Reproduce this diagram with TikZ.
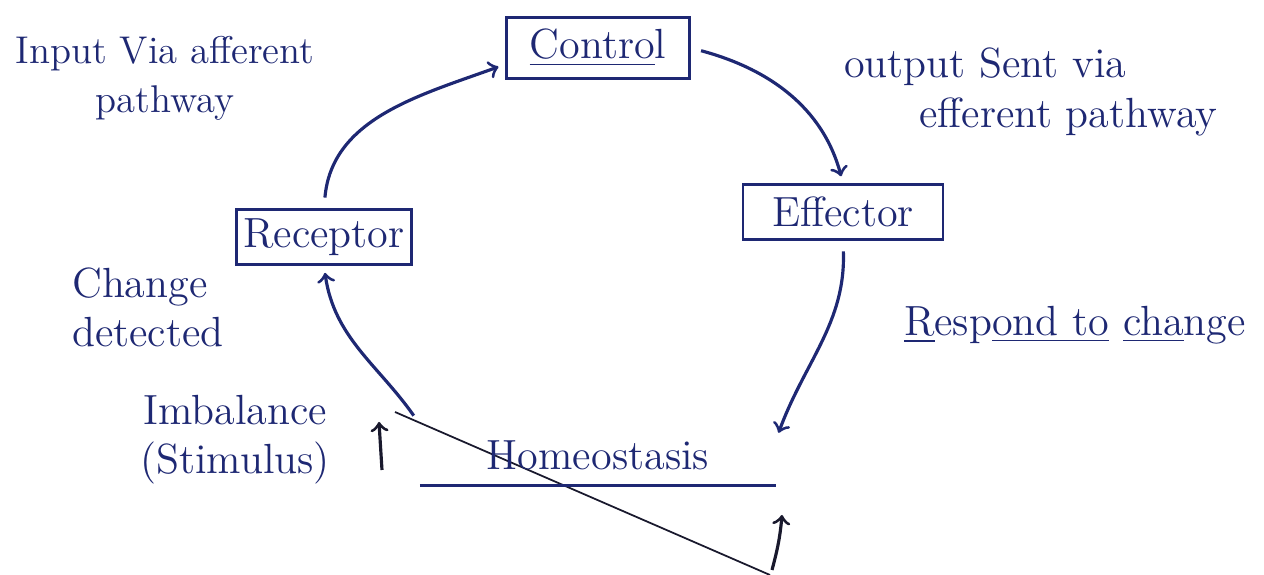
\documentclass[tikz,border=0pt]{standalone}
\usepackage{xcolor}
\definecolor{ink}{RGB}{30,40,115}
\definecolor{pencil}{RGB}{25,25,45}
\begin{document}
\begin{tikzpicture}[ink, font=\fontsize{12}{14}\selectfont,
  stage/.style={draw, line width=0.8pt, inner sep=2pt, minimum height=0.55cm},
  note/.style={inner sep=1pt},
  flow/.style={->, line width=0.9pt, shorten <=3pt, shorten >=2pt}]
\useasboundingbox (0,0) rectangle (12.64,-5.75);
% tilted balance line behind the text
\coordinate(tiltA) at (3.95,-4.12);
\coordinate(tiltB) at (7.70,-5.75);
\draw[pencil, line width=0.5pt] (tiltA) -- (tiltB);
% boxes
\node[stage, minimum width=1.83cm, minimum height=0.61cm](C) at (5.98,-0.48) {\underline{Contro}l};
\node[stage, minimum width=1.75cm](R) at (3.24,-2.37) {Receptor};
\node[stage, minimum width=2.00cm](E) at (8.43,-2.12) {Effector};
\node[minimum width=3.55cm, minimum height=0.6cm, inner sep=0pt](H) at (5.98,-4.55) {Homeostasis};
\draw[line width=0.8pt] (H.south west) -- (H.south east);
% labels
\node[note, align=center, font=\fontsize{11}{14}\selectfont](in) at (1.65,-0.78) {Input Via afferent\\pathway};
\node[note, align=left, anchor=west](out) at (8.40,-0.92) {output Sent via\\\hspace{7.5mm}efferent pathway};
\node[note](resp) at (10.75,-3.25) {\underline{R}esp\underline{ond to} \underline{cha}nge};
\node[note, align=left, anchor=west](det) at (0.68,-3.07) {Change\\detected};
\node[note, align=center](imb) at (2.35,-4.40) {Imbalance\\(Stimulus)};
% loop
\path[flow]
(R.north) edge[out=85, in=200] (C.190)
(C.east) edge[out=-15, in=105] (E.north)
(E.south) edge[out=-88, in=70] (H.5)
(H.north west) edge[out=125, in=-82] (R.south);
% small arrows
\coordinate(stimT) at (3.82,-4.70);
\coordinate(stimH) at (3.79,-4.22);
\coordinate(tipT) at (7.72,-5.70);
\coordinate(tipH) at (7.82,-5.15);
\draw[->, pencil, line width=0.9pt] (stimT) -- (stimH);
\draw[->, pencil, line width=0.9pt] (tipT) to[out=75, in=-95] (tipH);
\end{tikzpicture}
\end{document}
